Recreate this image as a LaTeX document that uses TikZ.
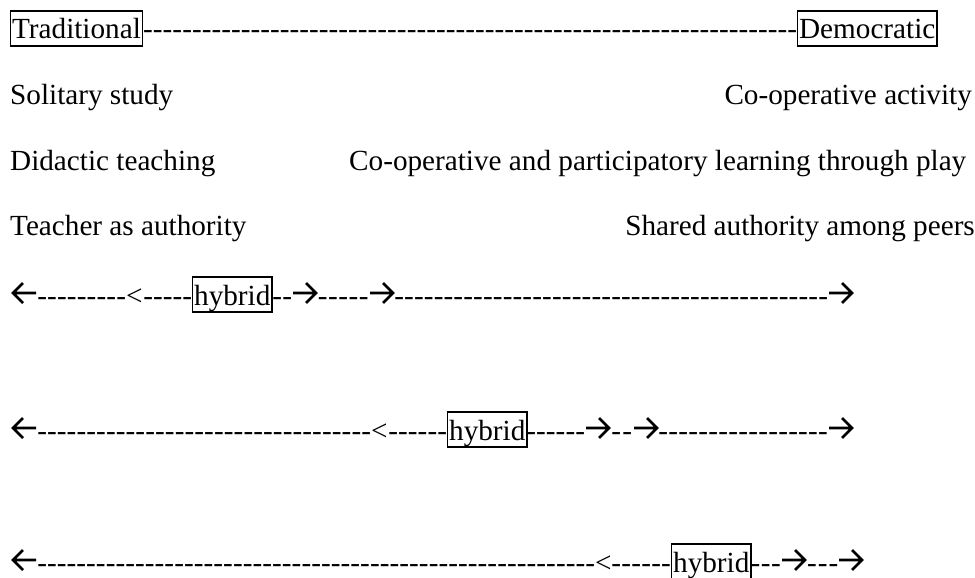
\documentclass[tikz,border=0pt]{standalone}
\usepackage{fontspec}
\setmainfont{Liberation Serif}
\newcommand{\hyfill}[1]{\hbox to #1pt{\xleaders\hbox{-}\hfill}}
\begin{document}
\begin{tikzpicture}[x=1pt,y=-1pt,
  every node/.style={inner sep=0pt, font=\fontsize{29.2}{34}\selectfont},
  txt/.style={anchor=base west},
  rtxt/.style={anchor=base east},
  hy/.style={anchor=base west},
  boxed/.style={anchor=base west, draw, line width=1.3pt, inner xsep=1.5pt, inner ysep=1pt, text height=27pt, text depth=6pt},
  arrline/.style={line width=2.6pt, line cap=butt, line join=miter},
  rarr/.pic={\draw[arrline] (0,0) -- (23,0) (13,-10) -- (23,0) -- (13,10);},
  larr/.pic={\draw[arrline] (23,0) -- (0,0) (10,-10) -- (0,0) -- (10,10);}]
\useasboundingbox (0,0) rectangle (975,578);
% row 1
\node[boxed] (trad) at (10,39) {Traditional};
\node[hy] (h1) at (143,39) {\hyfill{654}};
\node[boxed] (demo) at (797,39) {Democratic};
% rows 2-4
\node[txt] (t2l) at (10,105) {Solitary study};
\node[rtxt] (t2r) at (972,105) {Co-operative activity};
\node[txt] (t3l) at (10,170) {Didactic teaching};
\node[txt] (t3r) at (349,170) {Co-operative and participatory learning through play};
\node[txt] (t4l) at (10,235) {Teacher as authority};
\node[rtxt] (t4r) at (975,235) {Shared authority among peers};
% row 5
\pic (a5l) at (13,293) {larr};
\node[hy] (h5a) at (37,305) {\hyfill{89}};
\node[txt] (lt5) at (126,305) {<};
\node[hy] (h5b) at (143,305) {\hyfill{49}};
\node[boxed] (hyb5) at (192,305) {hybrid};
\node[hy] (h5c) at (272,305) {\hyfill{20}};
\pic (a5a) at (293,293) {rarr};
\node[hy] (h5d) at (317,305) {\hyfill{52}};
\pic (a5b) at (370,293) {rarr};
\node[hy] (h5e) at (394,305) {\hyfill{434}};
\pic (a5c) at (829,293) {rarr};
% row 6
\pic (a6l) at (13,428) {larr};
\node[hy] (h6a) at (37,440) {\hyfill{334}};
\node[txt] (lt6) at (371,440) {<};
\node[hy] (h6b) at (388,440) {\hyfill{59}};
\node[boxed] (hyb6) at (447,440) {hybrid};
\node[hy] (h6c) at (526,440) {\hyfill{59}};
\pic (a6a) at (586,428) {rarr};
\node[hy] (h6d) at (610,440) {\hyfill{23}};
\pic (a6b) at (634,428) {rarr};
\node[hy] (h6e) at (658,440) {\hyfill{170}};
\pic (a6c) at (829,428) {rarr};
% row 7
\pic (a7l) at (13,560) {larr};
\node[hy] (h7a) at (37,572) {\hyfill{558}};
\node[txt] (lt7) at (595,572) {<};
\node[hy] (h7b) at (611,572) {\hyfill{60}};
\node[boxed] (hyb7) at (671,572) {hybrid};
\node[hy] (h7c) at (750,572) {\hyfill{31}};
\pic (a7a) at (782,560) {rarr};
\node[hy] (h7d) at (806,572) {\hyfill{33}};
\pic (a7b) at (839,560) {rarr};
\end{tikzpicture}
\end{document}
